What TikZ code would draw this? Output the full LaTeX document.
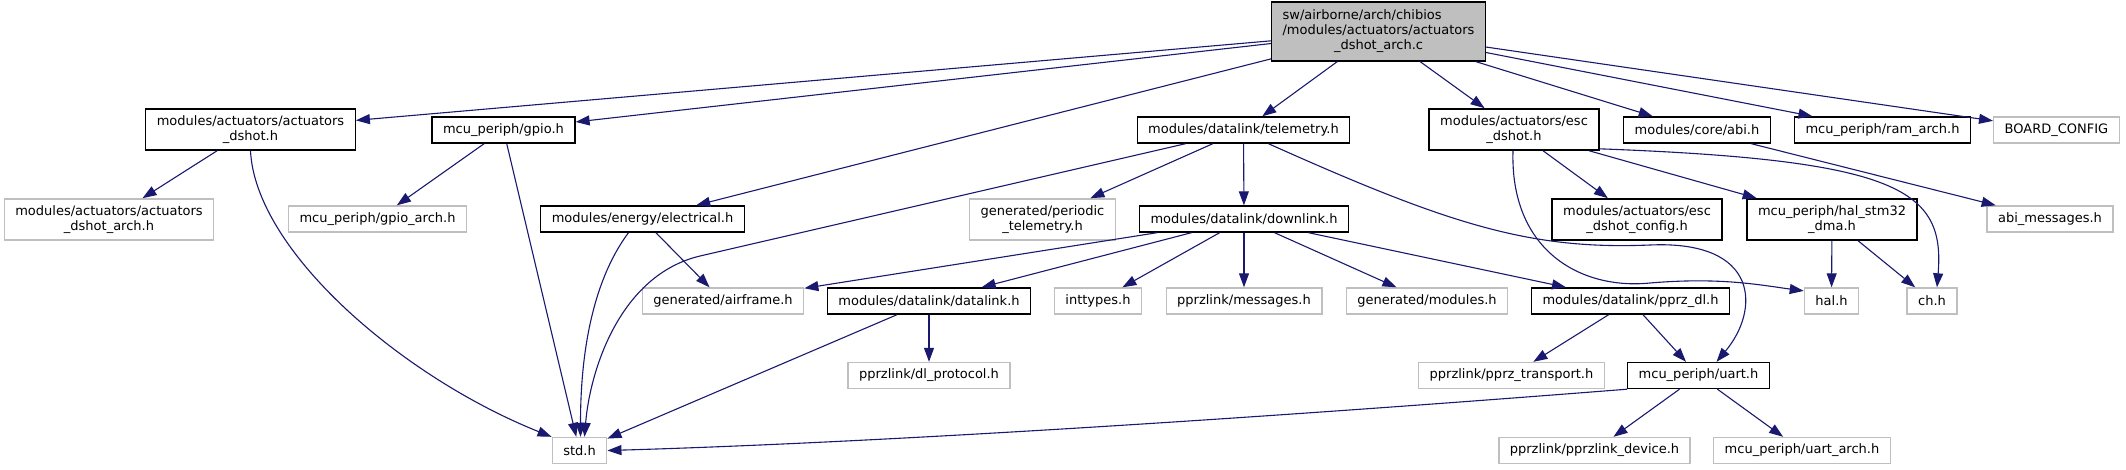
\documentclass[tikz,border=0pt]{standalone}
\usepackage{fontspec}
\setmainfont{DejaVu Sans}
\usepackage{xcolor}
\usetikzlibrary{arrows.meta}
\definecolor{edgeblue}{RGB}{25,25,112}
\definecolor{boxgray}{RGB}{191,191,191}

\begin{document}
\begin{tikzpicture}[x=1pt,y=-1pt,
  font=\fontsize{13}{15.3}\selectfont,
  box/.style={draw=black, line width=1.4pt, fill=white, inner xsep=11pt, inner ysep=6.5pt, minimum height=26pt, align=center},
  extbox/.style={box, draw=boxgray},
  edge/.style={-{Triangle[length=14pt,width=10pt]}, color=edgeblue, line width=1.1pt}]

\fill[white] (0,0) rectangle (2126,469);
\useasboundingbox (0,0) rectangle (2126,469);

% top row
\node[box, fill=boxgray] (main) at (1378.5,31.5) {\begin{tabular}{@{}l@{}}sw/airborne/arch/chibios\\/modules/actuators/actuators\\\multicolumn{1}{@{}c@{}}{\_dshot\_arch.c}\end{tabular}};

\node[box] (adsh) at (250.5,129.5) {modules/actuators/actuators\\\_dshot.h};
\node[box] (gpio) at (503.5,130) {mcu\_periph/gpio.h};
\node[box] (telem) at (1243.5,130) {modules/datalink/telemetry.h};
\node[box] (esc) at (1514,129.5) {modules/actuators/esc\\\_dshot.h};
\node[box] (abi) at (1697,130) {modules/core/abi.h};
\node[box] (ram) at (1882.5,130) {mcu\_periph/ram\_arch.h};
\node[extbox] (board) at (2056.5,130) {BOARD\_CONFIG};

\node[extbox] (adarch) at (109,219.5) {modules/actuators/actuators\\\_dshot\_arch.h};
\node[extbox] (gpioarch) at (377.5,219) {mcu\_periph/gpio\_arch.h};
\node[box] (elec) at (642.5,219) {modules/energy/electrical.h};
\node[extbox] (periodic) at (1042.5,219.5) {generated/periodic\\\_telemetry.h};
\node[box] (downlink) at (1244,219) {modules/datalink/downlink.h};
\node[box] (config) at (1637,219.5) {modules/actuators/esc\\\_dshot\_config.h};
\node[box] (dma) at (1832,219.5) {mcu\_periph/hal\_stm32\\\_dma.h};
\node[extbox] (abimsg) at (2050,219) {abi\_messages.h};

\node[extbox] (airframe) at (723,301) {generated/airframe.h};
\node[box] (datalink) at (929,301) {modules/datalink/datalink.h};
\node[extbox] (inttypes) at (1098,301) {inttypes.h};
\node[extbox] (messages) at (1244,301) {pprzlink/messages.h};
\node[extbox] (modules) at (1427,301) {generated/modules.h};
\node[box] (pprzdl) at (1630.5,301) {modules/datalink/pprz\_dl.h};
\node[extbox] (hal) at (1831.5,301) {hal.h};
\node[extbox] (ch) at (1932,301) {ch.h};

\node[extbox] (protocol) at (929,375.5) {pprzlink/dl\_protocol.h};
\node[extbox] (transport) at (1511.5,375.5) {pprzlink/pprz\_transport.h};
\node[box] (uart) at (1698.5,375.5) {mcu\_periph/uart.h};

\node[extbox] (std) at (579.5,450.5) {std.h};
\node[extbox] (device) at (1594.5,450.5) {pprzlink/pprzlink\_device.h};
\node[extbox] (uartarch) at (1802,450.5) {mcu\_periph/uart\_arch.h};

% includes of the source file
\foreach \dst in {adsh,gpio,elec,telem,esc,abi,ram,board}
  \draw[edge] (main) -- (\dst);

\draw[edge] (adsh) -- (adarch);
\draw[edge] (adsh.south) .. controls +(5,100) and +(-150,-60) .. (std.north west);
\draw[edge] (gpio) -- (gpioarch);
\draw[edge] (gpio) -- (std);
\draw[edge] ([xshift=-14pt]elec.south) .. controls +(-30,40) and +(0,-100) .. ([xshift=1pt]std.north);
\draw[edge] (elec) -- (airframe);

\draw[edge] ([xshift=-58pt]telem.south) -- (700,256) .. controls (620,275) and (590,370) .. ([xshift=5pt]std.north);
\draw[edge] (telem) -- (periodic);
\draw[edge] (telem) -- (downlink);
\draw[edge] ([xshift=25pt]telem.south) .. controls (1450,225) and (1530,250) .. (1650,245) .. controls (1760,240) and (1760,310) .. ([xshift=18pt]uart.north);

\draw[edge] ([xshift=-1pt]esc.south) .. controls (1510,250) and (1580,290) .. (1650,283) .. controls (1720,277) and (1760,285) .. (hal.160);
\draw[edge] (esc) -- (config);
\draw[edge] (esc) -- (dma);
\draw[edge] ([yshift=2pt]esc.south east) .. controls (1900,160) and (1945,190) .. ([xshift=5pt]ch.north);
\draw[edge] (abi) -- (abimsg);
\draw[edge] (dma) -- (hal);
\draw[edge] (dma) -- (ch);

% downlink
\foreach \dst in {airframe,datalink,inttypes,messages,modules,pprzdl}
  \draw[edge] (downlink) -- (\dst);

\draw[edge] (datalink) -- (protocol);
\draw[edge] (datalink) -- (std);
\draw[edge] (pprzdl) -- (transport);
\draw[edge] (pprzdl) -- (uart);

\draw[edge] (uart.south west) .. controls (1300,415) and (900,442) .. (std.east);
\draw[edge] (uart) -- (device);
\draw[edge] (uart) -- (uartarch);

\end{tikzpicture}
\end{document}
